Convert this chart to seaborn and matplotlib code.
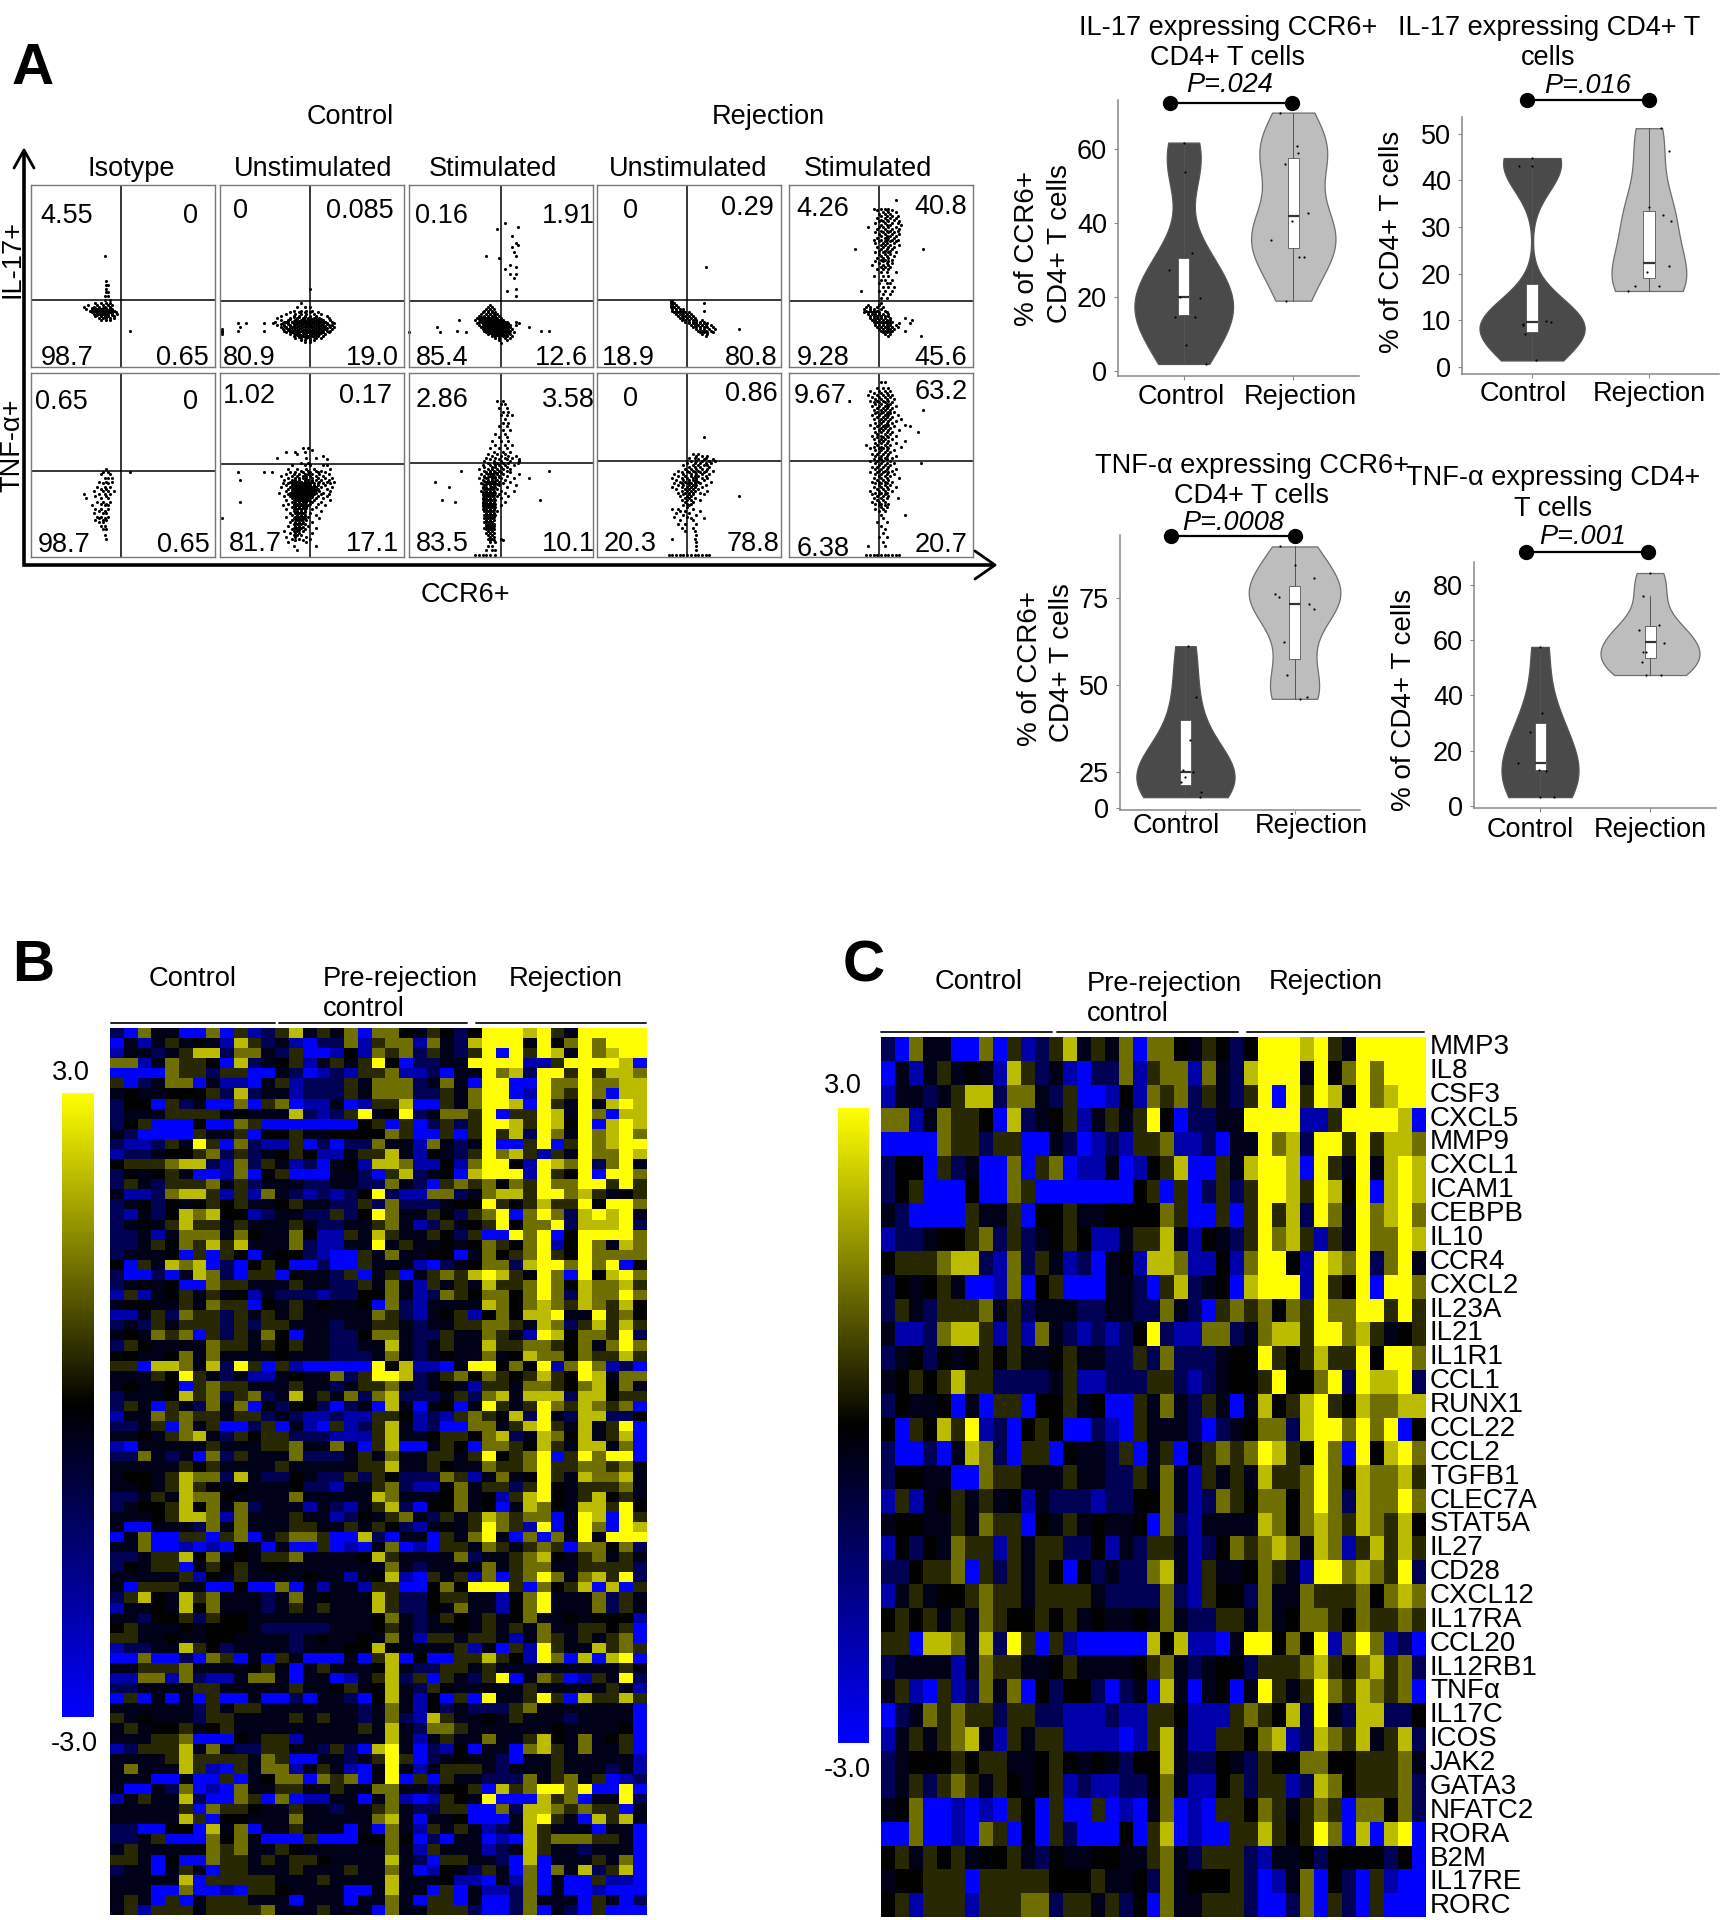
import numpy as np
import pandas as pd
import matplotlib
matplotlib.use('Agg')
import matplotlib.pyplot as plt
from matplotlib.colors import LinearSegmentedColormap
from matplotlib.cm import ScalarMappable
from matplotlib.colors import Normalize
import seaborn as sns

W, H = 1720, 1920

# --- panel A: gates and frequencies, flow points as (y, [x, x, ...]) in % of the panel
flow_stims = ['Isotype', 'Unstimulated', 'Stimulated', 'Unstimulated', 'Stimulated']
flow_left = [31, 220, 409, 597, 789]
flow_right = [215, 404, 593, 781, 973]
gate_x = [49, 49, 50, 49, 49]
gate_y_il17 = [37, 36, 36, 37, 36]
gate_y_tnf = [47, 50.5, 51, 52, 52]

iso_il17 = [(61,[40]),(47,[41]),(45,[41,42]),(43,[41]),(41,[41,42]),(39,[40,42]),(37,[40,43]),(35,[35,38,41,43]),(34,[31,36,39,42,44]),(33,[29,34,37,40,43]),(32,[30,33,36,38,41,44]),(31,[32,35,37,39,42,45]),(30,[33,36,38,40,43,46]),(29,[34,37,39,41,44,47]),(28,[35,38,40,42,45]),(27,[37,39,41,43,45]),(26,[38,41,43]),(20,[54]),
    (32.5,[33,35,37,39,41,43]),(31.5,[34,36,38,40,42,44]),(30.5,[35,37,39,41,43,45]),(29.5,[36,38,40,42,44]),(28.5,[36,38,40,42,44])]
ctrl_unstim_il17 = [(43,[49]),(35,[44]),(33,[42,46,49]),(31,[40,44,47,50]),(30,[38,43,46,49,53]),(29,[36,41,44,47,51,55]),(28,[33,40,43,46,49,52,58]),(27,[31,38,42,45,48,51,54,59]),(26,[33,37,41,44,46,49,52,56,60]),(25,[30,35,39,42,45,47,50,53,57,61]),(24,[10,14,24,29,34,37,40,43,46,48,51,54,58,62]),(23,[31,35,38,41,44,47,49,52,55,59,61]),(22,[11,33,36,39,42,45,48,50,53,56,60,62]),(21,[1,34,37,40,43,46,48,51,54,57,61]),(20,[1,10,24,35,38,41,44,47,49,52,55,58,60]),(19,[1,36,39,42,45,47,50,53,56,59]),(18,[1,38,41,43,46,49,51,54,57]),(17,[40,43,45,48,50,53,56]),(16,[41,44,47,49,52,55]),(15,[44,46,49,51]),(14,[46,49]),
    (27.5,[40,43,46,49,52]),(26.5,[38,42,45,48,50,53,55]),(25.5,[37,40,43,46,48,51,54,56]),(24.5,[36,39,41,44,47,49,52,55,57]),(23.5,[33,37,40,42,45,48,50,53,56,58]),(22.5,[35,38,40,43,46,49,51,54,57]),(21.5,[36,38,41,44,47,49,52,55,58]),(20.5,[37,39,42,45,48,50,53,56]),(19.5,[38,40,43,46,48,51,54]),(18.5,[40,42,45,47,50,52,55]),(17.5,[42,44,47,49,52]),(16.5,[43,46,48,51])]
ctrl_stim_il17 = [(79,[52]),(77,[59]),(76,[48]),(72,[56]),(68,[58]),(67,[59]),(66,[56]),(63,[57]),(61,[42,58]),(60,[49]),(56,[55]),(55,[58]),(54,[52]),(51,[55,58]),(49,[57]),(43,[58]),(42,[53]),(39,[58]),(34,[44]),(33,[43,45]),(32,[42,44,46]),(31,[41,43,45]),(30,[40,43,45,47]),(29,[39,42,44,46,48]),(28,[38,41,43,45,47,49]),(27,[37,40,42,44,46,48,50]),(26,[27,36,39,41,43,45,47,49,51]),(25,[38,40,42,44,46,48,50,52,58]),(24,[37,40,42,44,46,48,50,52,54,60]),(23,[38,41,43,45,47,49,51,53,55,58]),(22,[15,39,41,43,45,47,49,51,53,55,65]),(21,[40,42,44,46,48,50,52,54,56]),(20,[26,41,43,45,47,49,51,53,55,72,76]),(19,[0,17,31,42,44,46,48,50,52,54,57]),(18,[43,45,47,49,51,53,55]),(17,[45,47,49,51,53,56]),(16,[47,49,52,55]),(15,[49,53]),(13,[50]),
    (27.5,[39,41,43,45,47]),(26.5,[38,40,42,44,46,48,50]),(25.5,[39,41,43,45,47,49,51]),(24.5,[39,41,43,45,47,49,51,53]),(23.5,[40,42,44,46,48,50,52,54]),(22.5,[40,42,44,46,48,50,52,54]),(21.5,[41,43,45,47,49,51,53]),(20.5,[42,44,46,48,50,52,54]),(19.5,[43,45,47,49,51,53]),(18.5,[44,46,48,50,52,54]),(17.5,[46,48,50,52])]
rej_unstim_il17 = [(55,[59]),(36,[40,41]),(35,[40,41,42,58]),(34,[40,41,43]),(33,[40,42,44]),(32,[41,43,45,47]),(31,[41,43,45,47,58]),(30,[42,44,46,48,50]),(29,[43,45,47,49,51]),(28,[44,46,48,50,52]),(27,[45,47,49,51,53]),(26,[46,48,50,52,54,57]),(25,[48,50,52,54,56,58]),(24,[50,52,54,56,58,60]),(23,[51,53,55,57,59,62]),(22,[52,54,56,58,60,63]),(21,[54,56,58,61,64,77]),(20,[55,57,59,62]),(19,[56,58,60,63]),(18,[57,60]),(17,[59])]
rej_stim_il17 = [(92,[58]),(87,[46,50,52,54]),(86,[48,53,56]),(85,[51,54,58]),(84,[49,52,55]),(83,[50,53,56,59]),(82,[48,52,55,58]),(81,[50,53,57]),(80,[49,51,54,60]),(79,[47,52,56,59]),(78,[50,53,55,61]),(77,[43,49,51,54,58]),(76,[48,52,56,60]),(75,[50,53,55,59]),(74,[47,51,54,57]),(73,[49,52,56,60]),(72,[50,53,55,58]),(71,[48,52,54,57]),(70,[46,50,53,56,59]),(69,[49,52,55,58]),(68,[47,51,53,57]),(67,[50,52,55,60]),(66,[48,51,54,57]),(65,[36,50,53,56,73]),(64,[49,52,55]),(63,[47,51,54,58]),(62,[49,52,55]),(61,[50,53,57]),(60,[48,51,54]),(59,[50,52,56]),(58,[47,51,54]),(57,[49,53,56]),(56,[45,51,54]),(55,[50,52,55]),(54,[48,51,54]),(52,[50,53,58]),(50,[46,51,54]),(48,[50,52,56]),(46,[49,53,55]),(44,[51,54,57]),(42,[39,49,52,56]),(40,[51,55]),(38,[50,53]),(35,[50]),(34,[43,49]),(33,[42,44,48,51]),(32,[41,44,46,50]),(31,[42,44,46,48,52]),(30,[41,43,45,47,49,53]),(29,[43,45,47,49,51,54]),(28,[44,46,48,50,52,54]),(27,[44,46,48,50,52,55,63]),(26,[45,47,49,51,53,55,67]),(25,[46,48,50,52,54,56]),(24,[47,49,51,53,55,60,66]),(23,[47,49,51,53,55,58]),(22,[48,50,52,54,56,59]),(21,[49,51,53,55,57]),(20,[50,52,54,56,63]),(19,[51,53,55]),(18,[52,55]),(17,[54,72])]
iso_tnf = [(48,[41]),(46,[39,42,54]),(45,[38,43]),(43,[40,42,44]),(41,[37,41,44]),(40,[39,42]),(38,[36,40,43]),(37,[38,41]),(36,[34,39,42,45]),(34,[29,37,40,43]),(33,[35,41]),(32,[30,38,42]),(30,[36,39,43]),(29,[38,41]),(28,[33,40,42]),(26,[35,38,42]),(25,[37,40]),(24,[34,39,41]),(22,[36,38,42]),(21,[37,40]),(20,[35,39,41]),(19,[37,39]),(17,[38,40]),(15,[39,41]),(12,[40]),(10,[41])]
ctrl_unstim_tnf = [(59,[45,48]),(58,[50]),(57,[36,41,46]),(56,[42]),(55,[56]),(54,[31,47,52]),(53,[58]),(51,[44,48]),(50,[39,46,49,56,58]),(48,[37,42,47,51,60]),(47,[44,48,52,55]),(46,[10,24,28,38,41,45,49,53,57]),(45,[36,40,43,46,48,50,54,59]),(44,[33,39,42,45,47,49,52,56]),(43,[37,41,43,45,47,50,53,57,61]),(42,[11,35,39,41,43,46,48,50,52,55,59]),(41,[38,40,42,44,46,48,50,54,58,62]),(40,[34,37,39,41,43,45,47,49,51,53,56,60]),(39,[36,39,41,43,45,47,49,51,53,57]),(38,[33,38,40,42,44,46,48,50,52,55,61]),(37,[37,39,41,43,45,47,49,51,53,58]),(36,[36,39,41,43,45,47,49,51,54,60]),(35,[32,38,40,42,44,46,48,50,52,56]),(34,[37,39,41,43,45,47,49,51,55,59]),(33,[35,38,40,42,44,46,48,50,53,58]),(32,[39,41,43,45,47,49,52,56]),(31,[36,40,42,44,46,48,51,60]),(30,[11,39,41,43,45,47,50,55]),(29,[37,40,42,44,46,49,53]),(28,[34,40,42,44,46,48,57]),(27,[39,41,43,45,47,52]),(26,[36,40,42,44,46,50]),(25,[40,42,44,46,55]),(24,[38,41,43,45,49]),(23,[39,42,44,46,52]),(22,[36,41,43,45,48]),(21,[1,40,42,44,46,54]),(20,[39,42,44,47]),(19,[38,41,43,45,50]),(18,[40,42,44,46]),(17,[37,41,43,48]),(16,[40,42,44,52]),(15,[39,41,43,46]),(14,[35,40,42,45]),(13,[38,41,43,50]),(12,[40,42,44]),(11,[36,41,47]),(10,[39,43,49]),(9,[41,45]),(8,[37,47]),(6,[40,52]),(4,[42]),
    (40.5,[40,42,44,46,48,50]),(39.5,[40,42,44,46,48]),(38.5,[39,41,43,45,47,49,51]),(37.5,[40,42,44,46,48,50]),(36.5,[40,42,44,46,48,50,52]),(35.5,[39,41,43,45,47,49]),(34.5,[38,40,42,44,46,48,50]),(33.5,[39,41,43,45,47,49]),(32.5,[40,42,44,46,48,50]),(31.5,[41,43,45,47]),(30.5,[41,43,45,47,49]),(28.5,[41,43,45,47]),(26.5,[41,43,45,47]),(24.5,[42,44,46]),(22.5,[42,44,46]),(20.5,[41,43,45]),(18.5,[41,43,45]),(16.5,[41,43,45]),(14.5,[41,43])]
ctrl_stim_tnf = [(85,[48,51]),(83,[50,52]),(81,[49,53]),(79,[51,54]),(77,[50,53,56]),(75,[52]),(73,[51,54]),(71,[49,53]),(69,[51,55]),(67,[47,52]),(65,[49,53]),(63,[45,50,54]),(61,[47,52,56]),(59,[44,49,53]),(57,[46,51,55]),(56,[43,48,52]),(55,[45,50,54,58]),(54,[42,47,52,56]),(53,[44,49,53,60]),(52,[41,46,50,55,60]),(51,[43,46,48,51,54,59]),(50,[40,44,47,49,52,57]),(49,[41,45,47,50,53]),(48,[38,43,45,48,51,55]),(47,[28,41,44,46,49,53,76]),(46,[42,44,47,50,55]),(45,[39,43,45,48,51,60]),(44,[41,44,46,49,53]),(43,[38,42,45,47,50,57,65]),(42,[40,43,45,48,52]),(41,[14,42,44,46,49,55]),(40,[39,43,45,47,51]),(39,[41,44,46,49,58]),(38,[22,40,42,45,47,53]),(37,[41,43,45,48]),(36,[39,42,44,46,50,57]),(35,[41,43,45,47,52]),(34,[40,42,44,46,49]),(33,[41,43,45,48,54]),(32,[40,42,44,46,50]),(31,[18,41,43,45,47,71]),(30,[25,40,42,44,46,52]),(29,[41,43,45,47]),(28,[40,42,44,46,50]),(27,[41,43,45,47]),(26,[40,42,44,46]),(25,[41,43,45,48]),(24,[42,44,46]),(23,[41,43,45,47]),(22,[42,44,46]),(21,[41,43,45]),(20,[42,44,46]),(19,[41,43,45]),(18,[42,44,46]),(17,[42,44,46]),(16,[41,43,45]),(15,[42,44,46]),(14,[43,45]),(13,[42,44,46]),(12,[43,45]),(11,[44,46]),(10,[43,45,50]),(9,[44,46,51]),(8,[44,47]),(6,[43,45]),(4,[42,45,47]),(1,[36,38,40,42,44,47]),
    (45.5,[42,44,46,48]),(43.5,[41,43,45,47,49]),(41.5,[41,43,45,47]),(39.5,[40,42,44,46,48]),(37.5,[40,42,44,46]),(35.5,[40,42,44,46]),(33.5,[40,42,44,46]),(31.5,[40,42,44,46]),(29.5,[40,42,44,46]),(27.5,[40,42,44,46]),(25.5,[42,44,46]),(23.5,[42,44,46]),(21.5,[42,44]),(19.5,[42,44]),(17.5,[43,45]),(15.5,[43,45])]
rej_unstim_tnf = [(65,[58]),(56,[52,55]),(55,[54,57,60]),(54,[50,53,59]),(53,[55,58,63]),(52,[51,54,57,61,64]),(51,[49,53,56,59,62]),(50,[47,52,55,58,60]),(49,[50,53,56,61]),(48,[48,51,54,57,60]),(47,[44,49,52,55,59,63]),(46,[46,50,53,56,58]),(45,[42,47,51,54,57,61]),(44,[44,48,51,53,55,59]),(43,[41,46,49,52,54,57,60]),(42,[43,47,50,52,54,58]),(41,[45,48,50,53,55,62]),(40,[42,46,49,51,53,56]),(39,[44,47,50,52,54,59]),(38,[41,46,49,51,53,57]),(37,[43,48,50,52,55]),(36,[46,49,51,53,60]),(35,[44,48,50,52,56]),(34,[47,50,52,58]),(33,[45,49,51,77]),(32,[48,50,53]),(31,[46,49,51,56]),(30,[48,52]),(29,[49,51]),(28,[47,50]),(27,[49]),(26,[41,44,52]),(25,[45,48,56]),(24,[43,50]),(23,[47,54]),(22,[42,49]),(21,[51,58]),(20,[45,52]),(18,[44,48,54]),(16,[46,52]),(14,[48,53]),(12,[54]),(10,[41,53]),(8,[54]),(6,[54]),(4,[54]),(1,[39,41,43,45,47,49,51,53,55,57,59,61])]
rej_stim_tnf = [(95,[50,52]),(92,[48,51,54]),(90,[44,49,52,55]),(89,[46,50,53]),(88,[43,48,51,54,56]),(87,[45,49,52,55]),(86,[47,50,53,57]),(85,[44,48,51,54]),(84,[46,49,52,56]),(83,[47,50,53,55]),(82,[45,49,52,54,58]),(81,[48,51,53,56]),(80,[46,50,52,55,73]),(79,[48,51,54,57]),(78,[47,50,53,55]),(77,[45,49,52,54,59]),(76,[48,51,53,56]),(75,[46,50,52,55,61]),(74,[49,51,54,58]),(73,[47,50,53,56]),(72,[44,49,52,54,63]),(71,[48,51,53,57,66]),(70,[46,50,52,55]),(69,[49,51,54,60]),(68,[47,50,53,56,70]),(67,[48,52,55]),(66,[45,50,53,58]),(65,[48,51,54]),(64,[46,50,52,56]),(63,[49,51,54,63]),(62,[47,50,53,58]),(61,[42,48,52,55]),(60,[46,50,53,61]),(59,[44,49,51,54]),(58,[47,50,53,57]),(57,[49,52,55]),(56,[45,48,51,54]),(55,[47,50,53,58]),(54,[49,52,56]),(53,[46,50,53]),(52,[44,48,51,55]),(51,[47,50,53,57,72]),(50,[49,52,55]),(49,[45,48,51,54]),(48,[47,50,53,58]),(47,[49,52,56]),(46,[44,48,51,54]),(45,[47,50,53,57]),(44,[49,52,55]),(43,[46,50,53,60]),(42,[48,51,54]),(41,[45,49,52,56]),(40,[47,50,53]),(39,[49,52,55]),(38,[46,50,53,58]),(37,[48,51,54]),(36,[44,49,52,56]),(35,[47,50,53]),(34,[45,49,52]),(33,[48,51,54]),(32,[46,50,53,59]),(31,[48,51]),(30,[45,49,52]),(29,[47,50,54]),(28,[49,52]),(27,[50,53]),(26,[47,51]),(25,[49,52]),(23,[50,63]),(21,[51]),(19,[48,53]),(17,[50]),(15,[52]),(13,[51]),(11,[49,53]),(8,[51]),(6,[43,52]),(1,[42,44,46,48,50,52,54,56,58,60])]

flow_il17 = [iso_il17, ctrl_unstim_il17, ctrl_stim_il17, rej_unstim_il17, rej_stim_il17]
flow_tnf = [iso_tnf, ctrl_unstim_tnf, ctrl_stim_tnf, rej_unstim_tnf, rej_stim_tnf]

freq_labels = [
    ('4.55',67,213),('0',190,213),('98.7',67,355),('0.65',182,355),
    ('0',240,208),('0.085',360,208),('80.9',249,355),('19.0',372,355),
    ('0.16',442,213),('1.91',568,213),('85.4',442,355),('12.6',561,355),
    ('0',630,208),('0.29',747,205),('18.9',628,355),('80.8',751,355),
    ('4.26',823,206),('40.8',941,204),('9.28',823,355),('45.6',941,355),
    ('0.65',61,399),('0',190,399),('98.7',64,542),('0.65',183,542),
    ('1.02',249,393),('0.17',365,393),('81.7',255,541),('17.1',372,541),
    ('2.86',442,397),('3.58',568,397),('83.5',442,541),('10.1',568,541),
    ('0',630,396),('0.86',751,391),('20.3',630,541),('78.8',753,541),
    ('9.67.',824,393),('63.2',941,389),('6.38',823,546),('20.7',941,542),
]

# --- violins: values, jitter offsets and box stats (q1, median, q3, low, high)
groups = ['Control', 'Rejection']

v1_ctrl = [61.7,53.7,31.8,27.3,19.6,19.9,14.7,14.7,7,1.9]
v1_ctrl_off = [0,.01,.08,-.13,.15,-.03,-.08,.1,.02,.2]
v1_rej = [69.8,60.8,59,56,42.6,40.4,35.4,30.9,30.9,19]
v1_rej_off = [-.12,.03,.04,-.08,.13,-.01,-.2,.05,.1,-.07]
v1_box = [(15,20,30.5,1.9,61.7),(33.3,42,57.5,19,69.8)]

v2_ctrl = [44.8,43.1,43.1,9.2,9,9.8,9.7,7,1.4]
v2_ctrl_off = [0,-.11,0,-.08,-.08,.12,.16,-.06,.03]
v2_rej = [51.2,46.4,34.2,32.6,31.2,21.6,20.4,17.4,17.3,16.3]
v2_rej_off = [.1,.17,0,.12,.19,.17,-.02,-.12,.09,-.18]
v2_box = [(7.5,9.7,17.7,1.4,44.8),(19,22.2,33.4,16.3,51.2)]

v3_ctrl = [61.2,46.4,34,24.8,23.4,19.2,17.6,25.5,22]
v3_ctrl_off = [.02,.1,.04,.07,0,.14,.13,-.02,-.04]
v3_rej = [90,84.5,81,76.4,75.3,73.3,72,62.5,53,46.4,46]
v3_rej_off = [-.13,0,.18,-.18,-.14,.13,.18,-.1,-.07,.11,.05]
v3_box = [(21.2,25,40,17.6,61.2),(57.5,73.3,78.7,46,90)]

v4_ctrl = [57.6,33.5,26.8,15.4,12.4,13,3.1,3.1]
v4_ctrl_off = [0,.02,-.09,-.2,.05,-.01,.13,0]
v4_rej = [84.4,76,65.5,63.7,58.9,55.6,55.6,52,47.4,47.4]
v4_rej_off = [0,-.06,.08,-.1,.13,-.06,-.04,-.07,.1,-.04]
v4_box = [(12.8,15.4,30,3.1,57.6),(53.7,59.5,65.3,47.4,76)]

# --- heatmaps, levels 0 (blue) .. 4 (black) .. 8 (yellow)
level_values = [-3, -2, -1.0, -0.3, 0, 0.45, 1.3, 2.2, 3]

genes_c = ['MMP3','IL8','CSF3','CXCL5','MMP9','CXCL1','ICAM1','CEBPB','IL10','CCR4','CXCL2','IL23A','IL21','IL1R1','CCL1','RUNX1','CCL22','CCL2','TGFB1','CLEC7A','STAT5A','IL27','CD28','CXCL12','IL17RA','CCL20','IL12RB1','TNFα','IL17C','ICOS','JAK2','GATA3','NFATC2','RORA','B2M','IL17RE','RORC']

rows_c = [
"2 0 6 3 3 0 0 6 0 5 1 2 5 7 3 5 3 6 0 6 6 4 3 5 4 2 4 8 8 8 7 8 5 3 8 8 8 8 8",
"0 3 1 3 5 3 4 3 1 7 5 2 3 1 0 2 2 6 1 5 6 6 1 6 3 2 7 8 8 8 3 8 4 6 8 6 8 8 8",
"1 3 3 2 3 5 7 7 2 6 6 3 2 5 0 0 1 4 1 6 5 6 2 5 3 2 5 8 0 8 5 8 7 3 8 6 7 8 8",
"6 6 1 3 6 5 5 4 0 7 2 3 4 5 1 3 5 3 5 8 4 0 2 2 3 3 8 8 8 8 1 1 5 8 8 8 8 7 0",
"0 0 0 0 6 5 5 2 5 5 0 0 3 2 0 1 2 1 5 5 6 1 1 2 0 3 3 8 6 7 2 8 8 5 8 5 7 7 6",
"2 4 4 0 5 2 3 0 0 6 0 5 6 0 1 1 3 0 1 4 5 7 0 0 5 3 7 8 8 7 0 8 5 3 8 3 7 8 7",
"2 4 5 0 0 0 4 0 0 6 5 0 0 0 0 0 0 0 4 5 0 5 0 2 5 2 5 8 8 7 5 8 7 4 8 0 7 8 7",
"3 2 0 0 0 0 5 3 3 5 0 4 4 5 3 3 4 4 4 4 6 5 0 0 5 0 5 8 5 7 2 8 6 3 8 6 7 8 6",
"1 2 2 3 4 4 5 6 2 5 2 3 4 5 4 1 1 3 5 5 7 3 1 4 3 2 5 8 6 7 5 1 5 3 8 6 6 8 7",
"4 5 5 5 6 7 7 2 1 6 2 5 3 1 2 0 3 4 1 7 7 6 1 1 4 1 6 8 8 4 1 8 7 6 8 2 6 8 3",
"2 4 3 4 5 3 0 0 1 6 0 4 5 0 0 0 3 3 2 0 5 7 2 3 4 0 7 8 8 8 1 8 5 4 8 0 8 8 6",
"2 5 3 2 5 5 5 6 3 5 2 3 3 3 2 2 3 3 2 2 6 3 2 0 5 6 5 6 4 6 5 8 6 6 8 8 5 8 5",
"3 1 1 2 6 7 7 5 1 5 1 6 3 2 1 2 1 2 4 8 2 1 1 6 6 2 3 6 7 7 5 8 8 6 7 5 3 4 5",
"2 3 4 2 4 3 4 5 4 5 3 3 4 5 3 3 2 2 5 2 6 2 2 2 3 4 4 8 5 4 5 7 5 5 8 4 8 8 6",
"3 4 5 4 5 7 5 5 2 2 2 2 3 5 1 1 2 2 2 5 5 2 1 2 3 4 4 5 8 4 4 6 8 2 8 7 7 8 2",
"2 4 3 3 4 0 3 0 5 5 0 4 4 5 3 4 0 0 5 3 6 3 2 5 3 0 3 7 4 5 7 8 5 4 7 6 6 7 7",
"4 0 5 4 7 5 8 1 2 0 4 5 4 0 0 2 1 0 5 3 3 3 2 0 2 3 4 6 6 2 7 8 8 6 8 6 8 0 4",
"2 0 0 2 0 3 7 6 2 0 5 5 0 4 3 3 2 5 0 3 5 0 3 5 6 5 6 8 7 5 4 8 6 0 8 4 7 8 6",
"2 4 4 3 3 0 0 6 5 5 3 3 3 5 3 3 2 2 5 3 6 3 1 5 3 5 3 7 5 5 6 8 6 4 7 6 6 7 5",
"1 5 1 3 4 5 3 5 3 4 1 3 2 2 2 1 2 2 4 4 6 3 1 2 6 5 4 6 6 4 6 8 6 2 7 6 6 8 6",
"3 4 4 3 3 5 3 6 5 5 0 4 3 5 3 4 3 3 4 0 6 2 1 3 3 3 3 7 6 4 6 7 6 5 7 6 5 7 4",
"1 4 2 4 3 6 5 5 1 5 3 5 5 2 2 4 1 3 2 5 5 3 1 2 4 6 5 6 7 6 3 7 6 1 5 7 5 7 5",
"2 2 4 5 5 6 0 5 2 5 3 5 4 0 4 2 3 2 2 6 7 3 1 5 3 3 4 6 5 3 1 8 8 6 7 6 5 8 2",
"1 3 5 3 4 4 5 6 5 5 3 5 5 5 5 3 2 2 2 2 6 2 1 5 4 4 2 6 3 3 6 5 5 5 6 4 6 7 6",
"4 5 4 5 3 5 3 6 5 4 4 5 4 5 3 4 3 3 4 3 6 3 2 2 5 5 3 6 3 4 6 6 5 4 6 5 5 6 5",
"5 5 0 7 7 6 3 7 2 8 5 0 5 1 0 0 0 0 0 7 4 7 1 1 0 3 8 8 4 6 4 8 1 6 8 6 1 2 0",
"2 3 3 3 3 1 3 6 5 5 3 3 4 5 3 3 3 3 4 5 6 3 2 3 4 4 2 5 5 5 6 7 5 4 6 7 5 6 2",
"3 5 1 0 5 1 2 6 3 6 0 4 2 4 4 2 0 2 3 0 7 3 0 3 4 0 3 8 5 3 5 8 6 5 7 6 5 6 0",
"0 2 3 6 5 6 5 5 2 5 5 2 2 1 1 1 2 1 1 5 5 4 1 1 1 5 6 5 4 7 2 8 3 2 7 7 2 2 4",
"1 3 5 3 5 6 7 3 1 5 3 5 5 1 1 1 1 0 1 5 7 3 1 1 5 5 4 6 7 1 2 7 6 5 7 3 5 7 2",
"2 3 4 4 4 5 4 5 5 3 3 4 5 4 3 4 3 2 4 4 7 3 2 2 4 3 2 5 4 4 6 6 4 4 5 5 5 6 3",
"2 3 5 2 5 6 5 3 5 4 3 4 5 1 2 1 1 2 2 4 6 3 1 1 4 5 2 5 5 1 2 7 6 4 5 5 5 6 2",
"3 4 6 0 0 1 0 1 0 5 4 0 5 0 0 5 0 1 0 3 6 0 1 0 5 5 4 6 5 3 5 6 5 0 6 6 4 6 2",
"0 0 6 0 0 1 0 6 5 0 4 0 5 2 0 0 0 4 0 5 7 0 1 0 0 5 5 7 5 4 5 8 6 0 7 0 7 8 0",
"4 5 3 5 4 5 3 4 4 5 3 2 4 3 3 4 4 3 3 5 6 3 2 5 5 5 2 1 3 3 4 2 4 4 4 4 2 4 0",
"3 4 4 5 5 5 0 5 5 5 5 5 4 4 4 5 3 3 4 2 6 3 4 4 4 5 2 0 1 3 6 0 4 2 0 5 1 0 0",
"4 5 1 5 5 5 1 5 5 5 6 6 2 5 5 3 5 2 4 0 6 3 3 5 5 5 2 0 0 2 6 0 5 2 0 5 0 0 0",
]

rows_b = [
"2 0 6 3 3 0 0 6 0 5 1 2 5 7 3 5 3 6 0 6 6 4 3 5 4 2 4 8 8 8 7 8 5 3 8 8 8 8 8",
"0 3 1 3 5 3 4 3 1 7 5 2 3 1 0 2 2 6 1 5 6 6 1 6 3 2 7 8 8 8 3 8 4 6 8 6 8 8 8",
"1 3 3 2 3 5 7 7 2 6 6 3 2 5 0 0 1 4 1 6 5 6 2 5 3 2 5 8 0 8 5 8 7 3 8 6 7 8 8",
"6 6 1 3 6 5 5 4 0 7 2 3 4 5 1 3 5 3 5 8 4 0 2 2 3 3 8 8 8 8 1 1 5 8 8 8 8 7 0",
"0 0 0 0 6 5 5 2 5 5 0 0 3 2 0 1 2 1 5 5 6 1 1 2 0 3 3 8 6 7 2 8 8 5 8 5 7 7 6",
"5 0 2 3 6 6 0 3 1 1 0 3 5 1 2 2 2 5 3 6 6 6 2 3 6 3 0 8 8 0 0 8 6 6 8 6 6 7 7",
"3 4 3 3 4 4 4 5 2 7 2 3 3 1 2 2 2 5 3 6 6 6 2 2 5 3 6 8 8 0 1 8 6 5 8 6 0 7 7",
"2 4 4 0 5 2 3 0 0 6 0 5 6 0 1 1 3 0 1 5 5 7 0 0 5 3 6 8 8 7 0 8 5 3 8 3 7 8 7",
"2 3 3 3 5 5 5 5 3 4 3 3 3 7 2 1 2 5 8 3 4 8 2 3 6 6 5 8 0 5 5 8 7 3 8 6 0 7 7",
"2 4 5 0 0 0 4 0 0 6 5 0 0 0 0 0 0 0 4 5 0 5 0 2 5 2 5 8 8 7 5 8 7 4 8 0 7 8 7",
"3 2 0 0 0 0 5 3 3 5 0 4 4 5 3 3 4 4 4 4 6 5 0 0 5 0 5 8 5 7 2 8 6 3 8 6 7 8 6",
"2 1 1 2 5 3 8 5 0 6 2 1 1 5 0 2 0 2 2 6 3 3 1 6 3 2 3 8 0 0 5 8 0 5 8 6 7 8 8",
"1 2 2 3 4 4 5 6 2 5 2 3 4 5 4 1 1 3 5 5 7 3 1 4 3 2 5 8 6 7 5 1 5 3 8 6 6 8 7",
"4 5 5 5 6 7 7 2 1 6 2 5 3 1 2 0 3 4 1 7 7 6 1 1 4 1 6 8 8 4 1 8 7 6 8 2 6 8 3",
"2 4 3 4 5 3 0 0 1 6 0 4 5 0 0 0 3 3 2 0 5 7 2 3 4 0 7 8 8 8 1 8 5 4 8 0 8 8 6",
"2 5 3 2 5 5 5 6 3 5 2 3 3 3 2 2 3 3 2 2 6 3 2 0 5 6 5 6 4 6 5 8 6 6 8 8 5 8 5",
"3 1 1 2 6 7 7 5 1 5 1 6 3 2 1 2 1 2 4 8 2 1 1 6 6 2 3 6 7 7 5 8 8 6 7 5 3 4 5",
"2 3 4 2 4 3 4 5 4 5 3 3 4 5 3 3 2 2 5 2 6 2 2 2 3 4 4 8 5 4 5 7 5 5 8 4 8 8 6",
"2 1 3 2 4 7 6 7 4 4 1 2 3 3 2 2 5 2 4 8 6 3 3 5 4 2 5 6 8 0 6 8 6 2 7 8 7 8 3",
"2 3 4 3 5 7 5 5 3 5 3 3 3 5 3 2 2 3 3 5 6 3 1 2 5 3 4 5 8 4 6 6 8 2 7 7 7 8 2",
"2 2 3 1 3 6 6 6 3 6 4 3 3 6 4 1 1 5 3 7 5 3 3 5 4 2 5 0 0 8 6 8 0 4 8 8 8 8 6",
"2 2 3 5 4 6 5 7 5 7 3 3 3 6 2 1 1 3 3 8 3 5 3 3 4 3 4 6 5 4 6 8 1 4 8 6 3 7 6",
"2 3 3 3 4 0 5 0 5 4 0 3 4 4 2 1 0 0 5 3 6 3 3 4 4 0 3 6 4 5 6 8 5 4 8 6 6 6 6",
"4 0 5 3 7 6 7 0 2 0 4 5 4 0 0 2 0 0 5 3 3 3 1 0 2 3 4 6 6 2 7 8 8 6 8 6 8 0 4",
"2 0 0 2 0 3 7 6 2 0 5 5 0 4 3 3 2 5 0 3 5 0 3 5 6 5 7 8 7 5 4 8 6 0 8 4 7 8 6",
"2 3 4 3 4 0 0 6 5 5 3 3 3 5 3 3 2 2 5 3 6 3 1 5 3 5 3 7 5 5 6 8 6 4 7 6 6 7 5",
"1 5 1 3 4 5 3 5 3 4 1 3 2 2 2 1 2 2 4 4 6 3 1 2 6 5 4 6 6 4 6 8 6 2 7 6 6 8 6",
"3 4 4 3 3 5 3 6 5 5 0 4 3 5 3 4 3 3 4 0 6 2 1 3 3 3 3 7 6 4 6 7 6 5 7 6 5 7 4",
"1 1 3 5 2 6 5 5 2 5 3 5 3 5 3 3 3 3 3 6 5 2 1 3 4 5 1 4 6 4 7 7 8 3 3 8 5 6 4",
"2 3 2 5 3 5 5 5 2 5 2 5 5 3 3 3 2 3 3 5 5 3 2 3 3 5 5 6 6 5 3 7 6 2 5 7 5 7 5",
"3 4 3 6 5 6 0 5 2 5 3 6 4 0 3 3 2 2 4 6 6 3 2 2 5 3 3 6 5 3 1 8 7 4 6 6 5 8 2",
"2 5 4 3 3 3 3 6 5 5 3 5 4 5 3 3 2 2 3 3 7 3 2 3 5 3 3 7 5 5 6 6 5 4 6 3 6 8 6",
"4 4 3 3 4 6 3 6 3 3 3 3 4 3 3 3 2 2 2 3 6 3 2 3 4 3 3 6 3 4 7 6 6 4 6 5 5 7 5",
"5 5 0 7 7 6 3 7 2 8 5 0 5 1 0 0 0 0 0 8 4 7 1 1 0 3 8 8 4 6 4 8 1 6 8 6 1 2 0",
"3 3 3 5 4 8 5 3 2 3 1 1 3 4 3 3 6 2 5 8 8 7 2 3 5 6 4 6 5 4 5 7 5 4 8 7 3 6 6",
"3 4 3 3 4 0 5 6 5 5 3 3 3 5 3 3 2 3 5 5 6 3 2 3 4 3 1 5 5 3 6 6 5 4 6 7 4 6 3",
"2 3 3 3 4 7 5 6 2 5 6 2 3 7 3 5 3 6 2 6 7 2 2 2 3 5 2 6 7 3 7 7 7 2 7 7 4 5 5",
"2 5 3 0 5 3 2 6 3 6 0 4 2 4 4 2 0 2 3 0 7 3 0 3 4 0 3 8 5 3 5 8 6 5 7 6 5 6 0",
"1 3 3 6 5 6 5 5 3 5 5 2 3 2 1 1 2 1 1 5 5 4 1 2 1 5 6 5 4 7 2 8 3 2 7 7 2 2 4",
"2 2 3 5 0 6 3 5 0 0 2 5 0 3 1 0 5 1 2 5 7 3 1 2 0 0 6 6 3 5 7 8 5 3 7 3 5 8 0",
"3 3 4 3 5 6 7 3 2 5 4 5 5 2 2 2 1 1 1 5 7 3 3 4 5 5 4 6 7 2 3 7 6 4 7 3 5 7 0",
"1 0 3 3 3 3 3 5 3 3 3 5 5 6 3 3 6 3 0 5 7 0 0 3 5 4 0 6 6 5 4 7 5 3 7 7 3 6 0",
"2 2 6 3 2 3 0 6 2 5 3 3 3 6 2 2 2 3 5 3 6 3 3 5 5 3 5 8 4 5 6 8 0 5 8 6 8 8 0",
"3 3 3 3 3 5 4 5 3 3 3 3 5 3 3 3 3 3 5 5 7 3 3 5 4 3 3 6 5 5 6 8 5 5 6 6 5 6 3",
"3 4 4 3 5 7 6 6 2 7 3 2 2 4 3 2 2 5 2 5 4 2 2 2 6 5 1 3 6 3 4 8 5 3 7 6 6 7 3",
"3 3 4 3 5 7 5 4 3 4 3 3 3 4 2 2 1 3 3 5 6 2 1 1 4 6 3 5 5 2 5 8 4 3 5 5 5 6 3",
"2 2 3 5 3 7 6 6 4 3 3 3 3 6 3 3 3 3 3 7 6 3 3 3 4 6 3 4 1 5 7 8 4 3 5 7 4 5 3",
"2 3 4 4 5 7 4 6 3 6 2 3 3 3 1 3 2 1 3 5 7 2 0 4 4 6 3 4 0 3 7 6 4 3 7 7 5 8 4",
"3 3 3 4 5 7 7 6 1 6 3 3 3 5 3 3 1 2 4 3 5 6 3 2 5 3 5 7 6 5 6 6 0 3 8 7 0 8 5",
"3 0 0 3 3 3 2 6 3 6 3 3 3 5 5 3 3 5 3 5 4 2 1 3 4 3 5 8 6 5 1 8 0 3 8 6 0 8 7",
"0 3 6 0 0 5 5 0 5 6 0 3 5 6 6 5 0 0 7 2 0 3 3 0 5 3 6 8 3 0 6 0 6 3 8 3 8 8 8",
"3 3 6 0 0 1 0 1 0 4 3 0 3 0 0 5 0 1 0 3 6 0 1 0 5 5 3 6 5 3 5 6 5 0 6 6 4 6 2",
"2 2 3 5 5 7 4 6 3 4 3 5 5 6 3 3 3 3 4 7 5 3 3 3 3 6 2 3 3 5 6 7 4 3 5 6 3 5 3",
"2 4 3 5 5 0 3 5 4 5 3 4 4 3 3 3 3 3 3 3 6 3 2 3 3 4 3 6 3 5 6 6 3 3 5 5 5 5 2",
"3 3 3 3 3 5 1 4 3 5 3 3 3 3 4 3 3 1 3 4 7 1 0 5 3 5 1 6 0 5 6 8 6 3 6 7 5 8 2",
"3 0 5 5 5 3 3 0 0 4 0 0 6 0 3 1 3 3 1 5 5 0 0 4 6 4 8 8 8 5 0 6 4 5 7 0 7 0 5",
"2 5 7 4 3 7 5 6 3 3 3 2 3 6 3 4 3 3 3 7 5 2 2 4 5 5 3 3 1 4 6 8 3 3 3 6 2 5 3",
"1 3 3 4 3 7 4 6 3 3 3 2 3 5 3 5 3 3 3 7 5 2 2 4 3 6 3 3 1 4 6 8 3 3 3 6 2 5 3",
"3 3 2 4 4 5 2 5 4 4 3 3 3 3 3 3 3 3 3 4 6 3 2 3 5 4 3 5 3 4 6 3 3 4 3 4 4 4 1",
"4 5 3 3 3 4 3 4 4 4 3 2 2 2 2 2 3 3 3 4 5 3 2 3 3 4 3 5 3 5 3 6 3 3 5 5 4 5 0",
"5 5 3 3 4 3 3 4 4 3 3 3 3 2 3 4 3 3 4 3 6 3 1 5 5 3 5 5 3 1 3 6 5 3 5 3 5 6 0",
"1 2 2 3 3 7 5 4 2 3 3 3 3 2 3 3 3 4 4 7 4 3 3 3 3 5 1 3 0 5 1 8 5 3 3 7 5 6 5",
"0 0 6 0 0 2 0 6 5 0 3 0 5 3 0 0 0 3 0 5 7 0 4 0 0 5 5 7 5 4 1 8 6 0 7 0 7 8 0",
"3 3 5 5 5 6 3 3 3 3 4 5 3 0 3 5 3 3 3 4 7 3 2 2 5 5 3 5 3 3 3 3 3 3 3 3 3 5 3",
"1 1 6 6 1 6 2 1 1 3 6 6 3 0 3 3 0 1 3 5 7 2 5 0 5 3 2 5 8 0 3 6 5 0 1 5 3 8 2",
"2 2 3 3 3 3 5 5 3 3 3 3 3 5 3 3 4 5 3 4 7 3 2 5 4 3 3 4 3 3 5 3 3 3 3 3 5 3 1",
"0 5 0 3 0 3 0 5 0 0 3 0 0 2 0 3 3 2 0 4 7 3 1 4 0 5 0 8 3 3 5 8 5 0 7 5 5 7 5",
"3 3 3 3 3 3 2 5 3 5 5 3 3 3 3 3 3 3 2 3 6 3 1 4 2 3 2 2 2 5 6 3 3 3 3 3 3 3 0",
"5 3 4 3 3 3 2 5 5 3 3 3 3 5 3 5 3 3 2 3 6 2 1 7 5 3 3 4 3 5 3 3 3 2 3 3 3 3 0",
"3 5 3 4 4 5 3 4 5 3 3 3 3 3 3 3 3 3 5 3 7 3 2 6 6 5 3 3 3 3 3 3 4 3 3 3 3 4 0",
"3 3 3 5 5 6 0 0 0 4 3 5 5 1 3 3 3 3 3 3 7 3 1 3 5 3 3 6 3 3 5 7 4 3 6 3 4 5 0",
"1 2 5 5 5 7 3 6 3 2 2 5 5 3 3 2 5 2 0 7 8 3 0 2 1 4 0 3 3 0 6 7 5 3 6 3 3 5 0",
"3 3 3 3 5 7 5 5 5 5 3 6 5 0 0 3 3 2 3 5 8 5 0 2 3 4 3 3 2 0 3 3 5 3 3 3 3 3 1",
"3 6 3 3 3 7 5 1 0 5 3 6 6 1 3 5 3 1 0 3 8 3 1 3 5 5 5 3 2 3 3 3 5 3 3 3 2 3 1",
"3 3 3 0 0 3 0 0 5 0 3 4 6 6 0 6 5 6 0 3 8 0 5 0 5 3 3 2 2 2 6 3 5 6 3 5 0 1 2",
"3 0 0 3 2 6 0 1 0 6 3 3 5 5 3 3 5 3 3 6 6 3 3 2 4 4 5 0 7 5 6 8 8 6 8 0 0 8 0",
"1 3 5 3 3 7 2 0 0 6 5 0 6 0 1 1 3 3 0 3 6 1 0 1 5 4 3 8 0 0 0 7 5 6 0 3 3 8 2",
"3 3 3 3 3 5 0 6 5 5 4 3 3 5 3 3 2 3 3 5 6 3 2 2 5 5 0 0 6 2 7 7 6 5 6 5 5 0 3",
"3 3 3 3 3 7 5 0 4 4 3 3 3 6 3 3 3 3 3 6 7 3 0 3 3 4 0 0 0 3 7 8 5 3 0 7 5 7 3",
"2 2 0 0 4 4 0 7 3 6 0 3 3 5 3 3 3 0 3 0 6 3 1 5 3 5 3 1 2 3 7 5 3 3 3 0 3 3 0",
"2 2 3 5 0 0 0 6 4 6 3 0 0 0 5 0 0 0 4 4 6 4 0 2 0 3 3 0 1 0 7 5 6 6 6 5 5 3 0",
"3 5 3 3 3 3 3 6 5 6 3 3 5 4 3 3 3 3 3 3 6 3 1 5 3 3 3 1 2 3 7 5 3 3 2 3 3 3 0",
"5 5 3 0 4 0 0 6 5 5 3 5 3 5 5 4 3 3 3 3 7 3 2 0 5 5 3 3 2 0 7 0 3 3 3 5 3 6 0",
"2 3 3 0 3 5 3 0 5 5 3 3 3 5 3 3 3 5 3 3 6 3 0 1 4 3 2 5 3 0 6 0 6 3 7 2 5 7 0",
"3 3 3 3 3 7 0 5 5 5 5 5 3 3 3 5 3 3 3 3 7 3 3 3 4 1 1 0 3 1 6 0 3 0 0 5 1 1 0",
"3 3 3 0 0 6 0 0 1 0 5 5 4 3 3 3 3 0 0 3 7 3 3 0 5 0 3 1 1 2 6 0 3 0 0 1 0 0 0",
"3 5 3 0 5 0 3 5 5 5 3 3 3 0 3 3 3 0 3 3 6 3 0 5 5 0 3 0 0 2 6 3 3 3 0 5 3 0 2",
"3 5 1 5 5 5 3 5 5 5 5 6 3 3 3 5 3 3 3 0 6 3 3 5 5 5 2 0 0 2 6 0 3 2 0 5 0 0 0",
]

sns.set_style('white')
plt.rcParams['font.family'] = ['Liberation Sans', 'DejaVu Sans']

fig = plt.figure(figsize=(W / 100, H / 100), dpi=100)
by_cmap = LinearSegmentedColormap.from_list('by', ['#0000ff', '#000000', '#ffff00'])


def px_axes(left, top, right, bottom):
    return fig.add_axes([left / W, 1 - bottom / H, (right - left) / W, (bottom - top) / H])


def flow_frame(points):
    return pd.DataFrame([(x, y) for y, xs in points for x in xs], columns=['x', 'y'])


# flow panels
for i in range(5):
    for points, top, bottom, gy in [(flow_il17[i], 185, 367, gate_y_il17[i]), (flow_tnf[i], 373, 557, gate_y_tnf[i])]:
        ax = px_axes(flow_left[i], top, flow_right[i], bottom)
        sns.scatterplot(data=flow_frame(points), x='x', y='y', color='black', s=5, linewidth=0, ax=ax, clip_on=False)
        ax.axvline(gate_x[i], color='black', lw=1.1)
        ax.axhline(gy, color='black', lw=1.1)
        ax.set_xlim(0, 100)
        ax.set_ylim(0, 100)
        ax.set(xlabel='', ylabel='', xticks=[], yticks=[])
        for s in ax.spines.values():
            s.set_color('#777777')
            s.set_linewidth(1)


# violins
def violin(rect, ctrl, ctrl_off, rej, rej_off, box, ylim, ticks, ticklabels, widths, bw):
    ax = px_axes(*rect)
    df = pd.DataFrame({'group': ['Control'] * len(ctrl) + ['Rejection'] * len(rej), 'value': ctrl + rej})
    for g, c, edge, w, b in [('Control', '#4a4a4a', '#555555', widths[0], bw[0]),
                             ('Rejection', '#bdbdbd', '#6e6e6e', widths[1], bw[1])]:
        sns.violinplot(data=df[df.group == g], x='group', y='value', order=groups, color=c, inner=None, cut=0,
                       density_norm='width', width=w, linewidth=0.9, linecolor=edge, bw_adjust=b, saturation=1, ax=ax)
    stats = [dict(q1=b[0], med=b[1], q3=b[2], whislo=b[3], whishi=b[4], fliers=[]) for b in box]
    ax.bxp(stats, positions=[0, 1], widths=0.1, showcaps=False, showfliers=False, patch_artist=True,
           boxprops=dict(facecolor='white', edgecolor='#555555', linewidth=0.6),
           medianprops=dict(color='#333333', linewidth=1.6),
           whiskerprops=dict(color='#555555', linewidth=0.7), zorder=4)
    dots = pd.DataFrame({'x': [o for o in ctrl_off] + [1 + o for o in rej_off], 'y': ctrl + rej})
    sns.scatterplot(data=dots, x='x', y='y', color='black', s=2.5, linewidth=0, ax=ax, zorder=5)
    ax.set_xlim(-0.6, 1.6)
    ax.set_ylim(*ylim)
    ax.set_xticks([0, 1], ['', ''])
    ax.set_yticks(ticks, ticklabels)
    ax.set(xlabel='', ylabel='')
    ax.tick_params(axis='both', labelsize=19.5, colors='#888888', labelcolor='black', length=3, width=0.8, pad=5,
                   left=True, bottom=True)
    sns.despine(ax=ax)
    for s in ['left', 'bottom']:
        ax.spines[s].set_color('#888888')
        ax.spines[s].set_linewidth(1.1)


violin((1118, 100, 1359, 376), v1_ctrl, v1_ctrl_off, v1_rej, v1_rej_off, v1_box, (-1.35, 73.2),
       [0, 20, 40, 60], ['0', '20', '40', '60'], (0.9, 0.77), (0.7, 0.8))
violin((1462, 117, 1719, 374), v2_ctrl, v2_ctrl_off, v2_rej, v2_rej_off, v2_box, (-1.5, 53.6),
       [0, 10, 20, 30, 40, 50], ['0', '10', '20', '30', '40', '50'], (0.9, 0.64), (0.5, 0.85))
violin((1120, 535, 1360, 810), v3_ctrl, v3_ctrl_off, v3_rej, v3_rej_off, v3_box, (13.9, 93.3),
       [14.4, 25, 50, 75], ['0', '25', '50', '75'], (0.9, 0.84), (1.0, 0.8))
violin((1474, 562, 1716, 808), v4_ctrl, v4_ctrl_off, v4_rej, v4_rej_off, v4_box, (-0.85, 88.4),
       [0, 20, 40, 60, 80], ['0', '20', '40', '60', '80'], (0.7, 0.9), (1.0, 0.8))


# heatmaps
def heat(rect, rows):
    matrix = [[level_values[int(v)] for v in row.split()] for row in rows]
    ax = px_axes(*rect)
    sns.heatmap(pd.DataFrame(matrix), cmap=by_cmap, vmin=-3, vmax=3, cbar=False,
                xticklabels=False, yticklabels=False, ax=ax)
    ax.set(xlabel='', ylabel='')


heat((110, 1028, 647, 1915), rows_b)
heat((881, 1037, 1426, 1917), rows_c)

for rect in [(62, 1093, 94, 1717), (838, 1108, 869, 1743)]:
    cax = px_axes(*rect)
    cb = fig.colorbar(ScalarMappable(Normalize(-3, 3), by_cmap), cax=cax)
    cb.set_ticks([])
    cb.outline.set_visible(False)

# overlay for text and annotation lines, in reference pixels
ov = fig.add_axes([0, 0, 1, 1], zorder=20)
ov.set_xlim(0, W)
ov.set_ylim(H, 0)
ov.axis('off')
ov.patch.set_alpha(0)


def put(x, y, s, size=19.5, **kw):
    kw.setdefault('ha', 'center')
    ov.text(x, y + 3, s, fontsize=size, va='center', color='black', **kw)


for letter, x, y in [('A', 33, 66), ('B', 33, 963), ('C', 864, 963)]:
    put(x, y, letter, size=42, fontweight='bold')

put(350, 114, 'Control')
put(768, 114, 'Rejection')
for x, s in zip([131, 313, 493, 688, 868], flow_stims):
    put(x, 166, s)
for s, x, y in freq_labels:
    put(x, y, s, size=19.5)
put(12, 256, 'IL-17+', rotation=90)
put(12, 442, 'TNF-α+', rotation=90)
put(465, 592, 'CCR6+')

ov.plot([24, 24, 993], [152, 565, 565], color='black', lw=2.6, solid_joinstyle='miter')
ov.plot([14, 24, 34], [168, 150, 168], color='black', lw=2)
ov.plot([975, 995, 975], [551, 565, 579], color='black', lw=2)

# violin titles, p values and brackets
titles = [
    ('IL-17 expressing CCR6+', 1228, 25), ('CD4+ T cells', 1227, 55),
    ('IL-17 expressing CD4+ T', 1549, 25), ('cells', 1548, 55),
    ('TNF-α expressing CCR6+', 1252, 463), ('CD4+ T cells', 1252, 493),
    ('TNF-α expressing CD4+', 1553, 475), ('T cells', 1553, 506),
]
for s, x, y in titles:
    put(x, y, s)
for s, x, y, x0, x1, yb in [('P=.024', 1230, 82, 1170, 1292, 103), ('P=.016', 1588, 83, 1527, 1649, 100),
                            ('P=.0008', 1233, 520, 1171, 1295, 536), ('P=.001', 1583, 534, 1526, 1648, 552)]:
    put(x, y, s, fontstyle='italic')
    ov.plot([x0, x1], [yb, yb], color='black', lw=1.6, marker='o', ms=10)

# x category labels sit off their ticks in the reference
for x, y in [(1181, 394), (1523, 391), (1176, 823), (1530, 827)]:
    put(x, y, 'Control')
for x, y in [(1300, 394), (1649, 391), (1311, 823), (1650, 827)]:
    put(x, y, 'Rejection')

put(1027, 245, '% of CCR6+', rotation=90, size=20)
put(1060, 241, 'CD4+ T cells', rotation=90, size=20)
put(1392, 239, '% of CD4+ T cells', rotation=90, size=20)
put(1030, 665, '% of CCR6+', rotation=90, size=20)
put(1062, 660, 'CD4+ T cells', rotation=90, size=20)
put(1404, 697, '% of CD4+ T cells', rotation=90, size=20)

# heatmap headers
put(193, 976, 'Control', size=19.7)
put(323, 976, 'Pre-rejection', size=19.7, ha='left')
put(323, 1006, 'control', size=19.7, ha='left')
put(566, 976, 'Rejection', size=19.7)
put(979, 979, 'Control', size=19.7)
put(1087, 981, 'Pre-rejection', size=19.7, ha='left')
put(1087, 1011, 'control', size=19.7, ha='left')
put(1326, 979, 'Rejection', size=19.7)
for x0, x1, y in [(111, 275, 1023), (279, 467, 1023), (476, 646, 1023),
                  (881, 1052, 1032), (1057, 1238, 1032), (1247, 1424, 1032)]:
    ov.plot([x0, x1], [y, y], color='#222222', lw=1.4)

put(71, 1070, '3.0')
put(74, 1741, '-3.0')
put(843, 1083, '3.0')
put(847, 1767, '-3.0')

for i, g in enumerate(genes_c):
    put(1430, 1044 + i * 23.87, g, size=20, ha='left')

fig.savefig('out.png', dpi=100)
